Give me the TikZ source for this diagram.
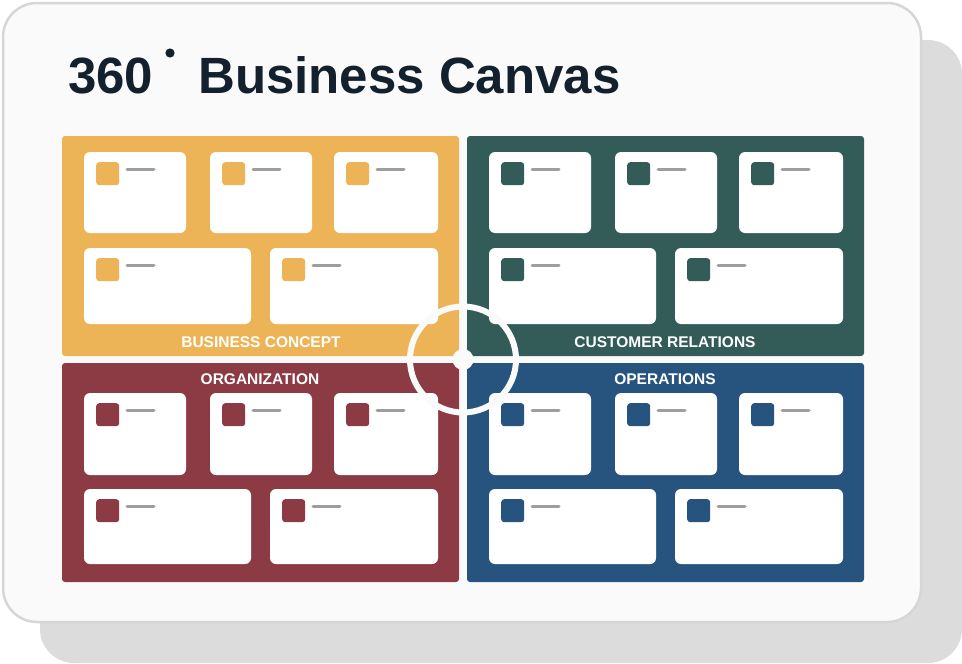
\documentclass[tikz,border=0pt]{standalone}
\usepackage{fontspec}
\setmainfont{Liberation Sans}
\definecolor{cyel}{HTML}{EDB457}
\definecolor{cgrn}{HTML}{335C59}
\definecolor{cred}{HTML}{8C3A43}
\definecolor{cblu}{HTML}{27547F}
\definecolor{ctitle}{HTML}{13202D}
\definecolor{cbg}{HTML}{FAFAFA}
\definecolor{cshadow}{HTML}{DCDCDC}
\definecolor{cborder}{HTML}{D6D6D6}
\definecolor{cline}{HTML}{9E9E9E}
\tikzset{
  panel/.style={fill=#1, rounded corners=3pt, draw=none},
  card/.style={fill=white, rounded corners=6pt, draw=none},
  icon/.style={fill=#1, rounded corners=3pt, draw=none},
  dash line/.style={draw=cline, line width=3pt, line cap=round},
  paneltitle/.style={text=white, font=\bfseries\fontsize{15.5}{16}\selectfont, inner sep=0pt, anchor=base},
}
% card with icon and line: #1 color, #2 x0, #3 y0, #4 x1, #5 y1, #6 name
\newcommand{\mycard}[6]{%
  \path[card] (#2,#3) rectangle (#4,#5);
  \node[icon=#1, minimum width=23pt, minimum height=23pt, inner sep=0pt, anchor=north west] (#6) at ($(#2,#3)+(12,10)$) {};
  \draw[dash line] ($(#2,#3)+(43,17)$) -- ($(#2,#3)+(70,17)$);
}
\usetikzlibrary{calc}
\begin{document}
\begin{tikzpicture}[x=1pt,y=-1pt]
\useasboundingbox (0,0) rectangle (962,664);
% shadow and card
\path[fill=cshadow, rounded corners=34pt] (40,40) rectangle (962,663);
\path[fill=cbg, draw=cborder, line width=2.5pt, rounded corners=34pt] (3,3) rectangle (921,622);
% title
\node[anchor=base west, inner sep=0pt, text=ctitle, font=\bfseries\fontsize{51}{51}\selectfont] (t1) at (68,93) {360};
\fill[ctitle] (170,53) circle (4.6);
\node[anchor=base west, inner sep=0pt, text=ctitle, font=\bfseries\fontsize{51}{51}\selectfont] (t2) at (198,93) {Business Canvas};
% panels
\path[panel=cyel] (62,136) rectangle (459,356);
\path[panel=cgrn] (467,136) rectangle (864,356);
\path[panel=cred] (62,363) rectangle (459,582);
\path[panel=cblu] (467,363) rectangle (864,582);
% cards
\foreach \col/\dx/\nm in {cyel/0/a, cgrn/405/b} {
  \mycard{\col}{84+\dx}{152}{186+\dx}{233}{\nm1}
  \mycard{\col}{210+\dx}{152}{312+\dx}{233}{\nm2}
  \mycard{\col}{334+\dx}{152}{438+\dx}{233}{\nm3}
  \mycard{\col}{84+\dx}{248}{251+\dx}{324}{\nm4}
  \mycard{\col}{270+\dx}{248}{438+\dx}{324}{\nm5}
}
\foreach \col/\dx/\nm in {cred/0/c, cblu/405/d} {
  \mycard{\col}{84+\dx}{393}{186+\dx}{475}{\nm1}
  \mycard{\col}{210+\dx}{393}{312+\dx}{475}{\nm2}
  \mycard{\col}{334+\dx}{393}{438+\dx}{475}{\nm3}
  \mycard{\col}{84+\dx}{489}{251+\dx}{564}{\nm4}
  \mycard{\col}{270+\dx}{489}{438+\dx}{564}{\nm5}
}
% labels
\node[paneltitle] (l1) at (261,347) {BUSINESS CONCEPT};
\node[paneltitle] (l2) at (665,347) {CUSTOMER RELATIONS};
\node[paneltitle] (l3) at (260,384) {ORGANIZATION};
\node[paneltitle] (l4) at (665,384) {OPERATIONS};
% crosshair
\draw[cbg, line width=6pt] (463,359.5) circle (53);
\fill[cbg] (463,359.5) circle (10.5);
\end{tikzpicture}
\end{document}
